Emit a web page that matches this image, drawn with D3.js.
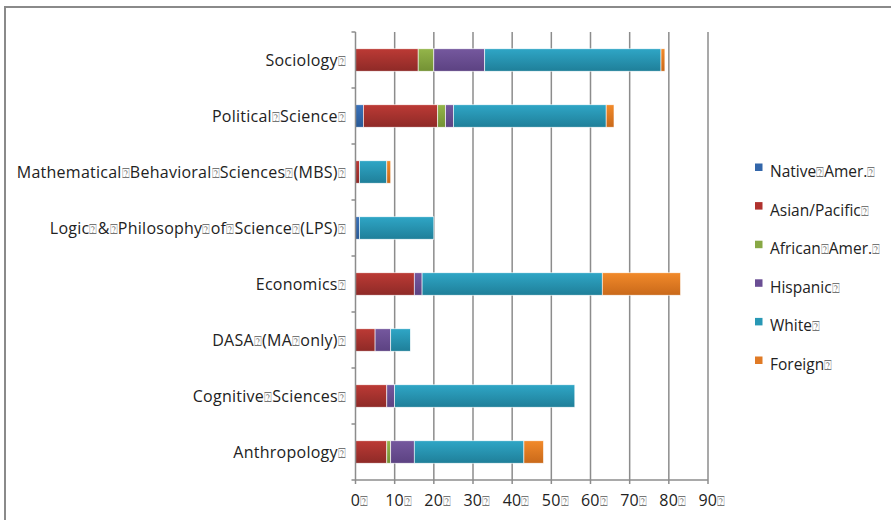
<!DOCTYPE html>
<html>
<head>
<meta charset="utf-8">
<script src="https://cdn.jsdelivr.net/npm/d3@7/dist/d3.min.js"></script>
<style>
  html, body { margin: 0; padding: 0; background: #fff; }
  svg { display: block; }
  text { font-family: "Open Sans", Lato, sans-serif; fill: #222; }
</style>
</head>
<body>
<svg id="chart" width="891" height="520"></svg>
<script>
// ---- data ----
const categories = [
  "Sociology",
  "Political Science",
  "Mathematical Behavioral Sciences (MBS)",
  "Logic & Philosophy of Science (LPS)",
  "Economics",
  "DASA (MA only)",
  "Cognitive Sciences",
  "Anthropology"
];
const seriesNames = ["Native Amer.", "Asian/Pacific", "African Amer.", "Hispanic", "White", "Foreign"];
const nativeAmer   = [0, 2, 0, 1, 0, 0, 0, 0];
const asianPacific = [16, 19, 1, 0, 15, 5, 8, 8];
const africanAmer  = [4, 2, 0, 0, 0, 0, 0, 1];
const hispanic     = [13, 2, 0, 0, 2, 4, 2, 6];
const white        = [45, 39, 7, 19, 46, 5, 46, 28];
const foreign      = [1, 2, 1, 0, 20, 0, 0, 5];
const xTicks = [0, 10, 20, 30, 40, 50, 60, 70, 80, 90];

const seriesValues = [nativeAmer, asianPacific, africanAmer, hispanic, white, foreign];
const colorTop    = ["#3A72BA", "#BC3A35", "#94B54A", "#75589E", "#2FA6C6", "#F28A2A"];
const colorBottom = ["#2A5A96", "#8E2A27", "#739134", "#5C4282", "#1F7F99", "#C9691A"];
const legendColor = ["#3366AA", "#B0322E", "#88A845", "#6A4E94", "#2898B5", "#E07A25"];

const BOX = "\u2370";

const svg = d3.select("#chart");

// outer frame
svg.append("line").attr("x1", 4).attr("x2", 891).attr("y1", 7).attr("y2", 7)
  .attr("stroke", "#8a8a8a").attr("stroke-width", 2);
svg.append("line").attr("x1", 5).attr("x2", 5).attr("y1", 6).attr("y2", 520)
  .attr("stroke", "#8a8a8a").attr("stroke-width", 2);

// gradients
const defs = svg.append("defs");
seriesNames.forEach((s, i) => {
  const g = defs.append("linearGradient").attr("id", "g" + i)
    .attr("x1", 0).attr("y1", 0).attr("x2", 0).attr("y2", 1);
  g.append("stop").attr("offset", "0%").attr("stop-color", colorTop[i]);
  g.append("stop").attr("offset", "100%").attr("stop-color", colorBottom[i]);
});

const plot = { left: 355.5, right: 708, top: 32, bottom: 480 };
const x = d3.scaleLinear().domain([0, 90]).range([plot.left, plot.right]);
const y = d3.scaleBand().domain(categories).range([plot.top, plot.bottom]).paddingInner(0.6).paddingOuter(0.3);
const yOuter = d3.scaleBand().domain(categories).range([plot.top, plot.bottom]);

// gridlines
svg.append("g").selectAll("line").data(xTicks.slice(1)).join("line")
  .attr("x1", d => x(d)).attr("x2", d => x(d))
  .attr("y1", plot.top).attr("y2", plot.bottom)
  .attr("stroke", "#8c8c8c").attr("stroke-width", 1.5);

// stacked data
const table = categories.map((c, i) => {
  const row = { cat: c };
  seriesNames.forEach((s, j) => row[s] = seriesValues[j][i]);
  return row;
});
const stacked = d3.stack().keys(seriesNames)(table);

const barsG = svg.append("g");
stacked.forEach((layer, li) => {
  barsG.append("g").selectAll("rect").data(layer).join("rect")
    .attr("x", d => x(d[0]))
    .attr("y", d => y(d.data.cat))
    .attr("width", d => Math.max(0, x(d[1]) - x(d[0])))
    .attr("height", y.bandwidth())
    .attr("fill", "url(#g" + li + ")")
    .attr("stroke", d => (d[1] - d[0]) > 0 ? "#ffffff" : "none")
    .attr("stroke-width", 0.6);
});

// axes
const xAxis = svg.append("g").attr("transform", `translate(0,${plot.bottom})`);
xAxis.append("line").attr("x1", plot.left).attr("x2", plot.right).attr("y1", 0).attr("y2", 0)
  .attr("stroke", "#8c8c8c").attr("stroke-width", 1.5);
xAxis.selectAll("line.t").data(xTicks).join("line").attr("class", "t")
  .attr("x1", d => x(d)).attr("x2", d => x(d)).attr("y1", 0).attr("y2", 4)
  .attr("stroke", "#8c8c8c").attr("stroke-width", 1.5);

function addLabel(sel, str, boxSize) {
  const parts = str.split(" ");
  parts.forEach((p, i) => {
    sel.append("tspan").text(p);
    sel.append("tspan").text(BOX).attr("font-size", boxSize).attr("fill", "#777")
      .attr("font-family", "DejaVu Sans");
  });
}

xAxis.selectAll("text").data(xTicks).join("text")
  .attr("x", d => x(d) + 4).attr("y", 26)
  .attr("text-anchor", "middle").attr("font-size", 16).attr("letter-spacing", 0.25)
  .each(function(d) { addLabel(d3.select(this), String(d), 13); });

const yAxis = svg.append("g");
yAxis.append("line").attr("x1", plot.left).attr("x2", plot.left).attr("y1", plot.top).attr("y2", plot.bottom)
  .attr("stroke", "#8c8c8c").attr("stroke-width", 1.5);
const bounds = categories.map(c => yOuter(c)).concat([plot.bottom]);
yAxis.selectAll("line.t").data(bounds).join("line").attr("class", "t")
  .attr("x1", plot.left - 4).attr("x2", plot.left).attr("y1", d => d).attr("y2", d => d)
  .attr("stroke", "#8c8c8c").attr("stroke-width", 1.5);
yAxis.selectAll("text").data(categories).join("text")
  .attr("x", 346).attr("y", d => y(d) + y.bandwidth() / 2 + 5.5)
  .attr("text-anchor", "end").attr("font-size", 16).attr("letter-spacing", 0.25)
  .each(function(d) { addLabel(d3.select(this), d, 13); });

// legend
const leg = svg.append("g");
seriesNames.forEach((s, i) => {
  const by = 177 + i * 38.6;
  leg.append("rect").attr("x", 755).attr("y", by - 13.5).attr("width", 7.5).attr("height", 7.5)
    .attr("fill", legendColor[i]);
  const t = leg.append("text").attr("x", 770).attr("y", by).attr("font-size", 15.5);
  addLabel(t, s, 13);
});
</script>
</body>
</html>
